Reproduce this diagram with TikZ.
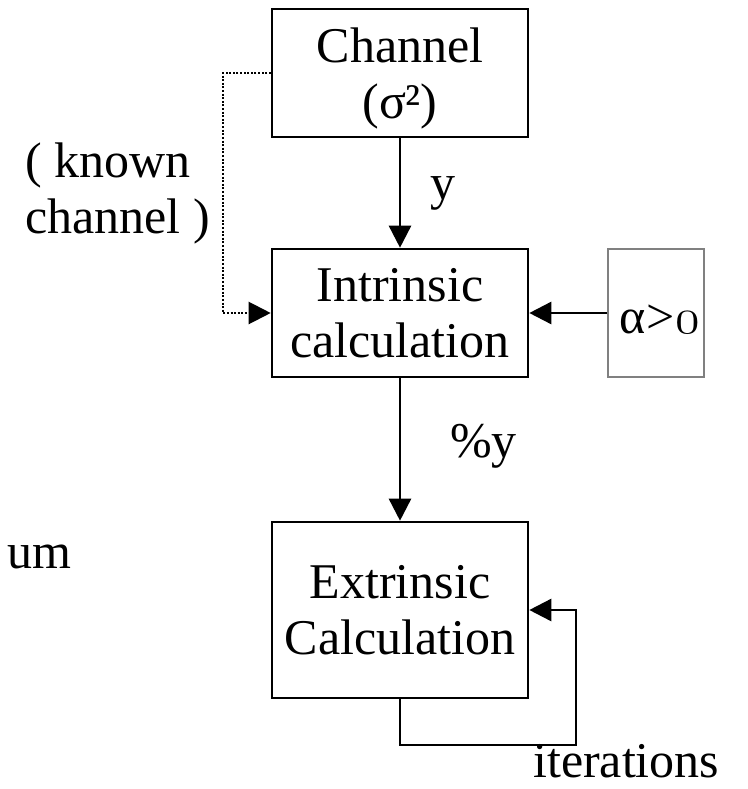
\documentclass[tikz,border=0pt]{standalone}
\usepackage{fix-cm}
\usepackage{fontspec}
\setmainfont{Liberation Serif}
\usetikzlibrary{arrows.meta}
\newcommand\myBigFont{\fontsize{50}{56}\selectfont}
\begin{document}
\begin{tikzpicture}[x=1pt,y=-1pt,
  blk/.style={draw,line width=2.6pt,minimum width=256pt,inner sep=0pt,align=center,text depth=0pt,font=\myBigFont},
  lbl/.style={inner sep=0pt,font=\myBigFont},
  tip/.style={-{Triangle[length=22pt,width=22pt]}},
  conn/.style={line width=2.6pt,tip},
  dotconn/.style={line width=2.2pt,dash pattern=on 2pt off 1.6pt,tip},
]
\useasboundingbox (0,0) rectangle (747,789);
\node[blk,minimum height=128pt] (ch) at (400,73) {Channel\\(σ²)};
\node[blk,minimum height=128pt] (in) at (400,313) {Intrinsic\\calculation};
\node[blk,minimum height=176pt] (ex) at (400,610) {Extrinsic\\Calculation};
\node[draw=gray,line width=1.2pt,minimum width=96pt,minimum height=128pt,inner sep=0pt] (al) at (656,313) {};
\node[lbl,anchor=base] (alt) at (660,333) {α\kern1pt>\kern1pt$\mathnormal{0}$};
\node[lbl,anchor=base] (ly) at (443,199) {y};
\node[lbl,anchor=base west] (lpy) at (450,457) {\%y};
\node[lbl,anchor=north west,align=left] (kn) at (25,143) {( known\\channel )};
\node[lbl,anchor=base east] (um) at (72,568) {um};
\node[lbl,anchor=base west] (it) at (533,777) {iterations};
\coordinate (dk) at (223,73);
\coordinate (lp) at (576,745);
\draw[conn] (ch) -- (in);
\draw[conn] (in) -- (ex);
\draw[conn] (al) -- (in);
\draw[dotconn] (ch.west) -- (dk) |- (in.west);
\draw[conn] (ex.south) |- (lp) |- (ex.east);
\end{tikzpicture}
\end{document}
